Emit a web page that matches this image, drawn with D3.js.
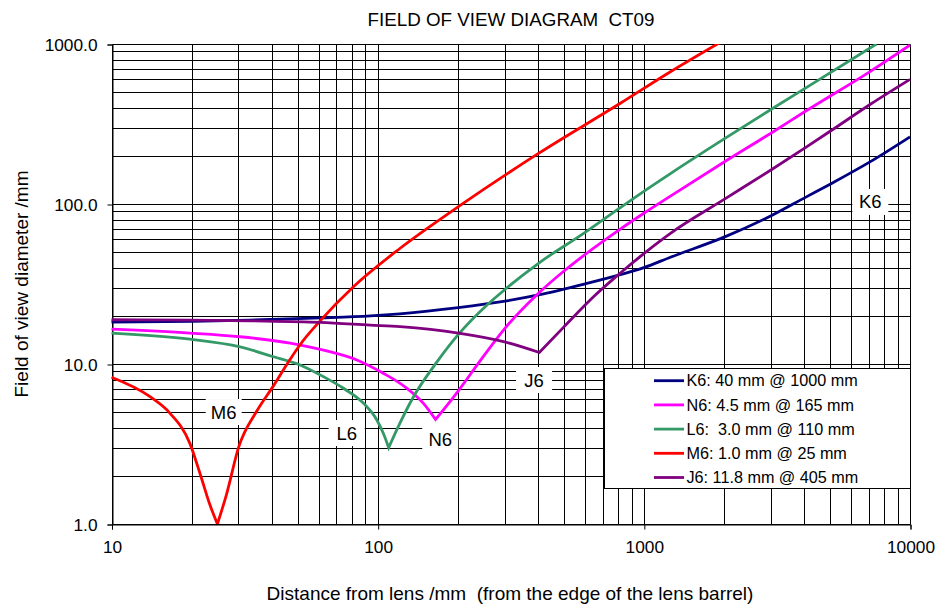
<!DOCTYPE html>
<html><head><meta charset="utf-8">
<script src="https://cdn.jsdelivr.net/npm/d3@7"></script>
<style>body{margin:0;background:#fff} text{font-family:Arial,"Liberation Sans",sans-serif;fill:#000}</style>
</head><body><svg id="c" width="935" height="608"></svg>
<script>
const title = "FIELD OF VIEW DIAGRAM  CT09";
const xLabel = "Distance from lens /mm  (from the edge of the lens barrel)";
const yLabel = "Field of view diameter /mm";
const xTicks = [10, 100, 1000, 10000];
const yTicks = [1, 10, 100, 1000];
const seriesNames = ["K6", "N6", "L6", "M6", "J6"];
const legendLabels = ["K6: 40 mm @ 1000 mm", "N6: 4.5 mm @ 165 mm", "L6:  3.0 mm @ 110 mm", "M6: 1.0 mm @ 25 mm", "J6: 11.8 mm @ 405 mm"];
const colors = ["#000080", "#FF00FF", "#339966", "#FF0000", "#800080"];

const k6X = [10, 20, 33, 61, 94, 121, 201, 297, 402, 611, 816, 1000, 1259, 2024, 3033, 4047, 5093, 7099, 10000];
const k6Y = [18.3, 18.5, 18.8, 19.4, 20.0, 20.6, 22.5, 24.6, 27.0, 31.9, 36.2, 40, 46.5, 62.5, 85, 110, 135, 184, 263];
const n6X = [10, 19.7, 30.4, 46.9, 62.6, 83.5, 105, 128.8, 148.6, 165, 201, 243, 297, 402, 500, 594, 816, 1000, 1259, 2024, 3033, 4047, 7099, 10000];
const n6Y = [16.5, 15.6, 14.8, 13.5, 12.2, 10.6, 8.75, 7.05, 5.68, 4.5, 6.8, 10.5, 16.3, 27.7, 38, 47.6, 69.7, 87.5, 112, 185, 280, 380, 675, 985];
const l6X = [10, 19.7, 30.4, 40.6, 51.1, 62.6, 74.4, 88.5, 99.3, 105, 110, 121.5, 136, 167, 201, 257, 299, 402, 594, 816, 1000, 1259, 2024, 3033, 4047, 7482];
const l6Y = [15.6, 14.3, 12.8, 11.1, 9.86, 8.33, 7.05, 5.68, 4.47, 3.69, 3.0, 4.3, 6.2, 10.3, 15.3, 23.3, 29.0, 42.6, 65.6, 95, 120, 155, 258, 394, 530, 1000];
const m6X = [10, 13.95, 16.6, 19.7, 21.5, 23.5, 25, 27.1, 30.0, 35.2, 40.6, 46.9, 51.1, 60.8, 81.1, 121.5, 201, 402, 816, 1259, 1910];
const m6Y = [8.26, 6.25, 4.92, 3.19, 2.07, 1.3, 1.0, 1.55, 3.0, 5.1, 7.3, 10.7, 13.2, 18.6, 30.4, 52.9, 96.2, 207, 426, 671, 1010];
const j6X = [10, 19.7, 33.2, 60.8, 93.7, 121.5, 201, 297, 405, 500, 650, 800, 1000, 1259, 2024, 3033, 4047, 5093, 7099, 10000];
const j6Y = [18.9, 18.8, 18.6, 18.2, 17.5, 17.1, 15.6, 13.8, 11.8, 17.0, 26.5, 36, 49, 65.6, 108, 165, 225, 290, 420, 601];

const labelNames = ["M6", "L6", "N6", "J6", "K6"];
const labelX = [26.4, 76.5, 171.8, 387, 7096];
const labelY = [5.01, 3.70, 3.35, 7.94, 103];

const seriesX = [k6X, n6X, l6X, m6X, j6X];
const seriesY = [k6Y, n6Y, l6Y, m6Y, j6Y];

const FONT = "Arial, 'Liberation Sans', sans-serif";
const svg = d3.select("#c");
const L = 111.5, R = 910, T = 44, B = 524;
const x = d3.scaleLog().domain([10, 10000]).range([L, R]);
const y = d3.scaleLog().domain([1, 1000]).range([B, T]);
const px = v => Math.round(v) + 0.5;

const xGrid = [];
for (let d = 10; d < 10000; d *= 10) for (let m = 1; m <= 9; m++) xGrid.push(d * m);
xGrid.push(10000);
const yGrid = [];
for (let d = 1; d < 1000; d *= 10) for (let m = 1; m <= 9; m++) yGrid.push(d * m);
yGrid.push(1000);

const g = svg.append("g");
g.selectAll(".gx").data(xGrid).join("line")
  .attr("x1", d => px(x(d))).attr("x2", d => px(x(d)))
  .attr("y1", px(y(1000))).attr("y2", px(y(1)))
  .attr("stroke", "#000").attr("stroke-width", 1);
g.selectAll(".gy").data(yGrid).join("line")
  .attr("y1", d => px(y(d))).attr("y2", d => px(y(d)))
  .attr("x1", px(x(10))).attr("x2", px(x(10000)))
  .attr("stroke", "#000").attr("stroke-width", 1);

const xAxis = d3.axisBottom(x).tickValues(xTicks).tickFormat(d3.format("d")).tickSize(5).tickPadding(10);
const ax = svg.append("g").attr("transform", `translate(0.5,${px(y(1))})`).call(xAxis);
const yAxis = d3.axisLeft(y).tickValues(yTicks).tickFormat(d3.format(".1f")).tickSize(5).tickPadding(10);
const ay = svg.append("g").attr("transform", `translate(${px(x(10))},0.5)`).call(yAxis);
[ax, ay].forEach(a => {
  a.select(".domain").attr("stroke", "#000");
  a.selectAll(".tick line").attr("stroke", "#000");
  a.selectAll("text").style("font-family", FONT).style("font-size", "17.3px").attr("fill", "#000");
});
ax.selectAll("text").attr("dy", "0.78em");

svg.append("clipPath").attr("id", "clip").append("rect")
  .attr("x", L - 2).attr("y", T).attr("width", R - L + 4).attr("height", B - T);
const line = d3.line().x(d => x(d[0])).y(d => y(d[1])).curve(d3.curveMonotoneX);
const lg = svg.append("g").attr("clip-path", "url(#clip)");
seriesNames.forEach((n, i) => {
  const pts = seriesX[i].map((v, j) => [v, seriesY[i][j]]);
  const idx = d3.minIndex(pts, p => p[1]);
  let d;
  if (idx > 0 && idx < pts.length - 1) {
    d = line(pts.slice(0, idx + 1)) + line(pts.slice(idx)).replace(/^M/, "L");
  } else d = line(pts);
  lg.append("path").attr("d", d)
    .attr("fill", "none").attr("stroke", colors[i]).attr("stroke-width", 2.8)
    .attr("stroke-linejoin", "miter").attr("stroke-miterlimit", 20);
});

labelNames.forEach((n, i) => {
  const cx = x(labelX[i]), cy = y(labelY[i]);
  svg.append("rect").attr("x", cx - 18).attr("y", cy - 13).attr("width", 36).attr("height", 26).attr("fill", "#fff");
  svg.append("text").attr("x", cx).attr("y", cy).attr("text-anchor", "middle").attr("dy", "0.35em")
    .style("font-size", "18.5px").text(n);
});

const lgX = 604.5, lgY = 368.5, lgW = 306, lgH = 120;
svg.append("rect").attr("x", lgX).attr("y", lgY).attr("width", lgW).attr("height", lgH)
  .attr("fill", "#fff").attr("stroke", "#000").attr("stroke-width", 1);
legendLabels.forEach((t, i) => {
  const yy = 380.7 + i * 24.2;
  svg.append("line").attr("x1", 654).attr("x2", 684).attr("y1", yy).attr("y2", yy)
    .attr("stroke", colors[i]).attr("stroke-width", 2.8);
  svg.append("text").attr("x", 686.5).attr("y", yy).attr("dy", "0.35em")
    .style("font-size", "16.2px").style("white-space", "pre").attr("xml:space", "preserve").text(t);
});

svg.append("text").attr("x", 511).attr("y", 26).attr("text-anchor", "middle").style("font-size", "18.8px")
  .style("white-space", "pre").attr("xml:space", "preserve").text(title);
svg.append("text").attr("x", 510).attr("y", 600).attr("text-anchor", "middle").style("font-size", "19px")
  .style("white-space", "pre").attr("xml:space", "preserve").text(xLabel);
svg.append("text").attr("transform", "translate(28,284) rotate(-90)").attr("text-anchor", "middle").style("font-size", "19px")
  .text(yLabel);
</script></body></html>
